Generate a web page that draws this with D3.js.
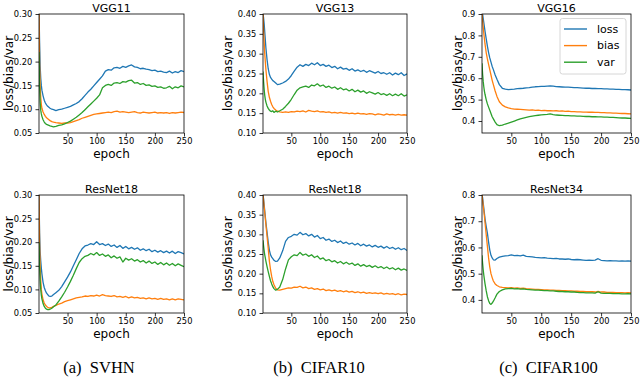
<!DOCTYPE html>
<html><head><meta charset="utf-8">
<script src="https://cdn.jsdelivr.net/npm/d3@7"></script>
<style>body{margin:0;background:#fff}svg{display:block}</style>
</head><body><svg id="c" width="640" height="378"></svg>
<script>
// ---------- data ----------
const epochs = [1,2,3,4,5,6,8,10,12,14,16,18,20,23,26,30,35,40,45,50,55,60,65,70,75,80,85,90,95,100,105,110,115,120,125,130,135,140,145,150,155,160,165,170,175,180,185,190,195,200,205,210,215,220,225,230,235,240,245,250];
const seriesNames = ["loss","bias","var"];
const titles = ["VGG11","VGG13","VGG16","ResNet18","ResNet18","ResNet34"];
const captions = ["(a)\u2002SVHN","(b)\u2002CIFAR10","(c)\u2002CIFAR100"];
const xTicks = [50,100,150,200,250];
const yTicksA = [0.05,0.10,0.15,0.20,0.25,0.30];
const yTicksB = [0.10,0.15,0.20,0.25,0.30,0.35,0.40];
const yTicksC = [0.4,0.5,0.6,0.7,0.8,0.9];
const yTicksD = [0.4,0.5,0.6,0.7,0.8];

const vgg11_svhn_loss = [0.31,0.24,0.19,0.165,0.150,0.140,0.128,0.119,0.113,0.109,0.106,0.104,0.102,0.100,0.099,0.097,0.099,0.100,0.102,0.104,0.106,0.109,0.112,0.116,0.122,0.129,0.136,0.142,0.149,0.156,0.163,0.170,0.180,0.183,0.182,0.187,0.188,0.186,0.190,0.188,0.191,0.193,0.189,0.188,0.185,0.186,0.184,0.183,0.181,0.182,0.179,0.180,0.178,0.177,0.180,0.176,0.179,0.177,0.181,0.179];
const vgg11_svhn_bias = [0.31,0.20,0.15,0.125,0.110,0.102,0.094,0.089,0.085,0.082,0.080,0.078,0.076,0.074,0.073,0.072,0.071,0.070,0.071,0.071,0.072,0.074,0.076,0.078,0.081,0.083,0.085,0.087,0.089,0.090,0.091,0.092,0.093,0.094,0.093,0.095,0.096,0.094,0.095,0.094,0.093,0.094,0.095,0.093,0.092,0.094,0.093,0.092,0.093,0.094,0.092,0.093,0.092,0.093,0.091,0.093,0.092,0.093,0.094,0.093];
const vgg11_svhn_var = [0.22,0.15,0.115,0.098,0.090,0.085,0.078,0.073,0.070,0.068,0.067,0.066,0.065,0.064,0.063,0.064,0.066,0.067,0.069,0.072,0.075,0.079,0.083,0.088,0.093,0.099,0.105,0.111,0.117,0.123,0.130,0.145,0.150,0.152,0.150,0.155,0.156,0.154,0.158,0.157,0.160,0.161,0.155,0.156,0.152,0.154,0.150,0.151,0.148,0.149,0.146,0.147,0.144,0.145,0.148,0.143,0.147,0.145,0.149,0.147];

const vgg13_cifar10_loss = [0.40,0.39,0.375,0.355,0.335,0.315,0.285,0.262,0.248,0.240,0.236,0.232,0.230,0.226,0.222,0.223,0.226,0.230,0.236,0.245,0.256,0.266,0.272,0.268,0.273,0.270,0.276,0.272,0.277,0.270,0.273,0.268,0.271,0.265,0.268,0.262,0.266,0.261,0.263,0.258,0.262,0.256,0.259,0.255,0.258,0.253,0.257,0.254,0.251,0.255,0.250,0.252,0.248,0.252,0.246,0.251,0.247,0.252,0.245,0.249];
const vgg13_cifar10_bias = [0.40,0.36,0.33,0.30,0.28,0.26,0.23,0.205,0.19,0.18,0.172,0.166,0.162,0.158,0.155,0.153,0.152,0.153,0.152,0.154,0.153,0.155,0.154,0.156,0.153,0.157,0.155,0.154,0.156,0.153,0.154,0.152,0.153,0.151,0.152,0.150,0.152,0.150,0.151,0.149,0.150,0.148,0.150,0.148,0.149,0.147,0.149,0.148,0.146,0.148,0.147,0.145,0.148,0.146,0.147,0.145,0.147,0.145,0.146,0.145];
const vgg13_cifar10_var = [0.255,0.23,0.21,0.195,0.185,0.178,0.168,0.162,0.158,0.155,0.154,0.156,0.152,0.155,0.153,0.156,0.160,0.167,0.175,0.185,0.197,0.208,0.214,0.216,0.218,0.215,0.221,0.219,0.224,0.218,0.221,0.215,0.218,0.213,0.216,0.210,0.214,0.209,0.211,0.206,0.210,0.204,0.208,0.203,0.206,0.200,0.204,0.201,0.198,0.202,0.197,0.199,0.195,0.199,0.194,0.198,0.194,0.199,0.193,0.196];

const vgg16_cifar100_loss = [0.91,0.90,0.88,0.86,0.84,0.82,0.785,0.75,0.72,0.695,0.675,0.655,0.64,0.615,0.595,0.57,0.553,0.549,0.547,0.548,0.549,0.551,0.552,0.553,0.555,0.556,0.558,0.560,0.561,0.562,0.562,0.563,0.564,0.563,0.561,0.560,0.559,0.558,0.558,0.557,0.556,0.556,0.555,0.554,0.553,0.553,0.552,0.552,0.551,0.551,0.550,0.550,0.549,0.549,0.548,0.548,0.547,0.547,0.546,0.545];
const vgg16_cifar100_bias = [0.90,0.87,0.84,0.81,0.785,0.76,0.72,0.69,0.665,0.64,0.615,0.59,0.57,0.54,0.515,0.49,0.474,0.466,0.461,0.458,0.456,0.455,0.454,0.453,0.452,0.451,0.452,0.450,0.451,0.449,0.450,0.448,0.449,0.447,0.448,0.446,0.447,0.445,0.446,0.444,0.444,0.443,0.443,0.442,0.442,0.441,0.441,0.440,0.440,0.439,0.439,0.438,0.438,0.437,0.437,0.436,0.435,0.435,0.434,0.433];
const vgg16_cifar100_var = [0.67,0.62,0.585,0.56,0.54,0.525,0.50,0.48,0.465,0.45,0.435,0.42,0.41,0.395,0.383,0.378,0.381,0.386,0.390,0.395,0.400,0.405,0.410,0.414,0.417,0.420,0.423,0.425,0.427,0.429,0.430,0.431,0.433,0.430,0.428,0.427,0.426,0.425,0.425,0.424,0.424,0.423,0.423,0.422,0.421,0.421,0.420,0.420,0.419,0.419,0.418,0.418,0.417,0.417,0.416,0.415,0.414,0.414,0.413,0.412];

const resnet18_svhn_loss = [0.30,0.22,0.18,0.16,0.145,0.133,0.115,0.104,0.097,0.092,0.089,0.086,0.085,0.086,0.089,0.093,0.098,0.106,0.116,0.126,0.137,0.150,0.163,0.176,0.186,0.192,0.194,0.197,0.195,0.201,0.195,0.197,0.193,0.196,0.191,0.194,0.189,0.193,0.187,0.191,0.186,0.189,0.185,0.188,0.183,0.186,0.182,0.185,0.180,0.183,0.179,0.182,0.178,0.181,0.177,0.181,0.176,0.180,0.178,0.175];
const resnet18_svhn_bias = [0.30,0.20,0.15,0.12,0.10,0.09,0.078,0.071,0.067,0.064,0.062,0.061,0.061,0.062,0.064,0.066,0.069,0.071,0.074,0.076,0.078,0.080,0.082,0.083,0.084,0.086,0.085,0.087,0.086,0.088,0.086,0.089,0.087,0.086,0.085,0.087,0.084,0.085,0.083,0.085,0.082,0.084,0.082,0.083,0.081,0.082,0.080,0.082,0.080,0.081,0.079,0.081,0.079,0.080,0.078,0.080,0.078,0.080,0.079,0.078];
const resnet18_svhn_var = [0.20,0.15,0.12,0.10,0.088,0.080,0.070,0.064,0.060,0.058,0.057,0.057,0.058,0.060,0.063,0.067,0.075,0.084,0.094,0.105,0.117,0.130,0.144,0.157,0.165,0.170,0.172,0.176,0.173,0.178,0.172,0.175,0.170,0.173,0.167,0.171,0.166,0.169,0.158,0.166,0.162,0.165,0.160,0.163,0.158,0.161,0.156,0.160,0.155,0.158,0.153,0.157,0.152,0.156,0.151,0.155,0.150,0.154,0.151,0.148];

const resnet18_cifar10_loss = [0.40,0.39,0.375,0.36,0.345,0.33,0.305,0.28,0.26,0.248,0.242,0.238,0.234,0.231,0.232,0.240,0.258,0.282,0.292,0.295,0.300,0.298,0.305,0.299,0.302,0.296,0.300,0.293,0.297,0.289,0.292,0.285,0.288,0.282,0.285,0.279,0.283,0.277,0.280,0.275,0.278,0.273,0.277,0.271,0.275,0.270,0.273,0.268,0.272,0.267,0.270,0.265,0.269,0.264,0.267,0.262,0.266,0.261,0.264,0.259];
const resnet18_cifar10_bias = [0.40,0.385,0.37,0.355,0.34,0.325,0.295,0.265,0.232,0.21,0.193,0.18,0.172,0.163,0.159,0.158,0.160,0.162,0.164,0.163,0.166,0.165,0.168,0.164,0.166,0.162,0.164,0.160,0.162,0.159,0.161,0.157,0.159,0.156,0.158,0.155,0.157,0.154,0.156,0.153,0.155,0.152,0.154,0.151,0.153,0.150,0.152,0.150,0.151,0.149,0.151,0.148,0.150,0.148,0.149,0.147,0.149,0.146,0.148,0.147];
const resnet18_cifar10_var = [0.285,0.27,0.258,0.248,0.24,0.232,0.218,0.205,0.193,0.182,0.174,0.167,0.162,0.158,0.160,0.166,0.185,0.212,0.235,0.243,0.248,0.246,0.254,0.247,0.250,0.244,0.248,0.241,0.245,0.237,0.240,0.233,0.236,0.230,0.233,0.227,0.231,0.225,0.229,0.224,0.227,0.221,0.225,0.219,0.223,0.218,0.221,0.216,0.220,0.215,0.218,0.213,0.217,0.212,0.215,0.210,0.214,0.209,0.212,0.208];

const resnet34_cifar100_loss = [0.80,0.79,0.77,0.75,0.73,0.71,0.68,0.655,0.62,0.59,0.57,0.56,0.553,0.552,0.558,0.563,0.566,0.568,0.569,0.572,0.569,0.570,0.568,0.571,0.566,0.565,0.564,0.562,0.561,0.560,0.561,0.559,0.558,0.557,0.558,0.556,0.556,0.555,0.556,0.554,0.553,0.554,0.553,0.552,0.551,0.552,0.551,0.552,0.557,0.551,0.550,0.549,0.550,0.549,0.549,0.548,0.549,0.548,0.549,0.548];
const resnet34_cifar100_bias = [0.80,0.78,0.76,0.74,0.72,0.695,0.65,0.605,0.56,0.525,0.50,0.485,0.472,0.461,0.455,0.450,0.448,0.447,0.446,0.447,0.445,0.446,0.444,0.445,0.443,0.442,0.441,0.440,0.440,0.439,0.438,0.438,0.437,0.437,0.436,0.436,0.435,0.435,0.434,0.434,0.433,0.433,0.432,0.432,0.431,0.431,0.431,0.430,0.432,0.430,0.430,0.429,0.429,0.429,0.428,0.428,0.428,0.427,0.428,0.427];
const resnet34_cifar100_var = [0.57,0.54,0.515,0.495,0.478,0.462,0.435,0.412,0.397,0.386,0.383,0.388,0.395,0.408,0.422,0.432,0.438,0.442,0.443,0.444,0.442,0.443,0.441,0.442,0.440,0.439,0.438,0.437,0.437,0.436,0.435,0.435,0.434,0.434,0.433,0.432,0.432,0.431,0.431,0.430,0.430,0.429,0.428,0.428,0.427,0.427,0.427,0.426,0.431,0.426,0.425,0.425,0.425,0.424,0.424,0.424,0.423,0.423,0.424,0.423];

// ---------- chart ----------
const svg = d3.select("#c");
const colors = ["#1f77b4","#ff7f0e","#2ca02c"];
const FONT = "'DejaVu Sans', sans-serif";
const layout = [
  {x0:39, x1:184, y0:14,  y1:133, ylab:13},
  {x0:263,x1:407, y0:14,  y1:133, ylab:231.5},
  {x0:482,x1:631, y0:14,  y1:133, ylab:461.5},
  {x0:39, x1:184, y0:195, y1:313, ylab:13},
  {x0:263,x1:407, y0:195, y1:313, ylab:231.5},
  {x0:482,x1:631, y0:195, y1:313, ylab:461.5}
];
const panels = [
  {dom:[0.05,0.30], ticks:yTicksA, fmt:".2f", s:[vgg11_svhn_loss,vgg11_svhn_bias,vgg11_svhn_var]},
  {dom:[0.10,0.40], ticks:yTicksB, fmt:".2f", s:[vgg13_cifar10_loss,vgg13_cifar10_bias,vgg13_cifar10_var]},
  {dom:[0.344,0.90], ticks:yTicksC, fmt:".1f", s:[vgg16_cifar100_loss,vgg16_cifar100_bias,vgg16_cifar100_var]},
  {dom:[0.05,0.30], ticks:yTicksA, fmt:".2f", s:[resnet18_svhn_loss,resnet18_svhn_bias,resnet18_svhn_var]},
  {dom:[0.10,0.40], ticks:yTicksB, fmt:".2f", s:[resnet18_cifar10_loss,resnet18_cifar10_bias,resnet18_cifar10_var]},
  {dom:[0.35,0.80], ticks:yTicksD, fmt:".1f", s:[resnet34_cifar100_loss,resnet34_cifar100_bias,resnet34_cifar100_var]}
];
const defs = svg.append("defs");

panels.forEach((p,i)=>{
  const L = layout[i];
  const x = d3.scaleLinear().domain([1,250]).range([L.x0,L.x1]);
  const y = d3.scaleLinear().domain(p.dom).range([L.y1,L.y0]);
  const g = svg.append("g");
  defs.append("clipPath").attr("id","clip"+i).append("rect")
    .attr("x",L.x0).attr("y",L.y0).attr("width",L.x1-L.x0).attr("height",L.y1-L.y0);
  const line = d3.line().x((d,j)=>x(epochs[j])).y(d=>y(d));
  const lg = g.append("g").attr("clip-path",`url(#clip${i})`);
  p.s.forEach((s,k)=>{
    lg.append("path").datum(s).attr("d",line).attr("fill","none")
      .attr("stroke",colors[k]).attr("stroke-width",1.3).attr("stroke-linejoin","round");
  });
  const ax = g.append("g").attr("transform",`translate(0,${L.y1})`)
    .call(d3.axisBottom(x).tickValues(xTicks).tickSize(3.5).tickPadding(2).tickFormat(d3.format("d")));
  const ay = g.append("g").attr("transform",`translate(${L.x0},0)`)
    .call(d3.axisLeft(y).tickValues(p.ticks).tickSize(3.5).tickPadding(3.2).tickFormat(d3.format(p.fmt)));
  [ax,ay].forEach(a=>{
    a.select(".domain").remove();
    a.attr("font-family",FONT).attr("font-size",8.3);
    a.selectAll("line").attr("stroke","#000").attr("stroke-width",0.8);
    a.selectAll("text").attr("fill","#000");
  });
  g.append("rect").attr("x",L.x0).attr("y",L.y0).attr("width",L.x1-L.x0).attr("height",L.y1-L.y0)
    .attr("fill","none").attr("stroke","#000").attr("stroke-width",0.8);
  g.append("text").attr("x",(L.x0+L.x1)/2).attr("y",L.y0-2.5).attr("text-anchor","middle")
    .attr("font-family",FONT).attr("font-size",11).text(titles[i]);
  g.append("text").attr("x",(L.x0+L.x1)/2).attr("y",L.y1+25).attr("text-anchor","middle")
    .attr("font-family",FONT).attr("font-size",12).text("epoch");
  g.append("text").attr("transform",`translate(${L.ylab},${(L.y0+L.y1)/2}) rotate(-90)`)
    .attr("text-anchor","middle").attr("font-family",FONT).attr("font-size",12).text("loss/bias/var");

  if(i===2){
    const leg = g.append("g");
    leg.append("rect").attr("x",560).attr("y",18.5).attr("width",66).attr("height",55.5).attr("rx",2.5)
      .attr("fill","#fff").attr("fill-opacity",0.8).attr("stroke","#cccccc").attr("stroke-width",0.8);
    seriesNames.forEach((n,k)=>{
      const yy = 29 + k*16.6;
      leg.append("line").attr("x1",564).attr("x2",587).attr("y1",yy).attr("y2",yy)
        .attr("stroke",colors[k]).attr("stroke-width",1.4);
      leg.append("text").attr("x",597).attr("y",yy).attr("dy","0.35em")
        .attr("font-family",FONT).attr("font-size",11).text(n);
    });
  }
});

const capX = [99,319,548.5];
captions.forEach((c,j)=>{
  svg.append("text").attr("x",capX[j]).attr("y",373).attr("text-anchor","middle")
    .attr("font-family","'Liberation Serif','Times New Roman',serif").attr("font-size",16.5).text(c);
});
</script></body></html>
